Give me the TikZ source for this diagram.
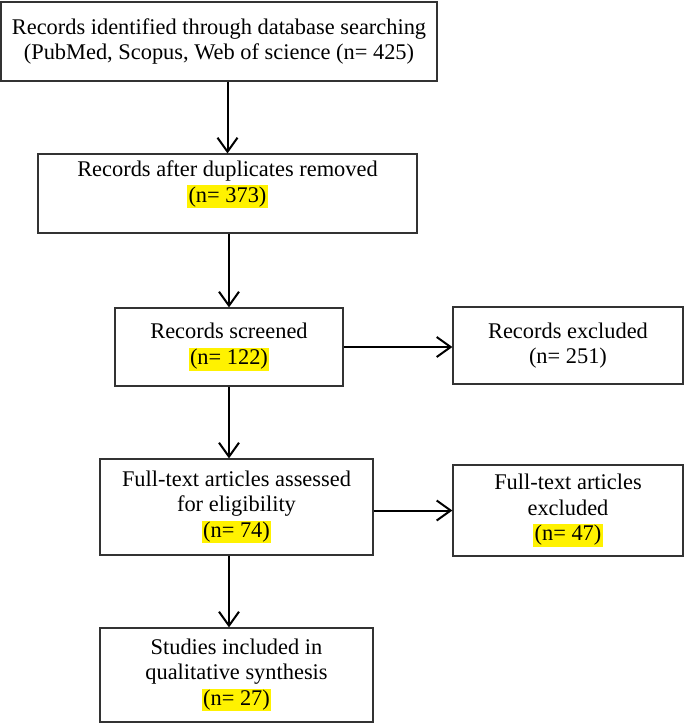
\documentclass[tikz,border=0pt]{standalone}
\usepackage{fontspec}
\setmainfont{Liberation Serif}
\usetikzlibrary{arrows.meta}
\newcommand{\hl}[1]{{\setlength{\fboxsep}{0.6pt}\colorbox{yellow}{#1}}}
\begin{document}
\begin{tikzpicture}[x=0.5pt,y=-0.5pt]
\tikzstyle{box}=[draw=black!80,line width=0.6pt,align=center,inner sep=0pt,font=\fontsize{11.2pt}{12.8pt}\selectfont]
\tikzstyle{arr}=[line width=1pt,-{Straight Barb[length=7pt,width=10pt]}]
\useasboundingbox (0,0) rectangle (685,724);
\node[box,minimum width=218pt,minimum height=39.5pt] at (219,41.5) (ident) {Records identified through database searching\\(PubMed, Scopus, Web of science (n= 425)};
\node[box,minimum width=189.5pt,minimum height=39.5pt] at (227.5,193.5) (dupl) {Records after duplicates removed\\\hl{(n= 373)}\rule[-12pt]{0pt}{12pt}};
\node[box,minimum width=114pt,minimum height=39pt] at (229,347) (screen) {Records screened\\\hl{(n= 122)}};
\node[box,minimum width=115pt,minimum height=38.5pt] at (568,345.5) (excl) {Records excluded\\(n= 251)};
\node[box,minimum width=136.5pt,minimum height=48pt] at (236.5,507) (full) {Full-text articles assessed\\for eligibility\\\hl{(n= 74)}};
\node[box,minimum width=115pt,minimum height=45.5pt] at (568,510.5) (fullexcl) {Full-text articles\\excluded\\\hl{(n= 47)}};
\node[box,minimum width=136.5pt,minimum height=47pt] at (236.5,675) (incl) {Studies included in\\qualitative synthesis\\\hl{(n= 27)}};
\draw[arr] (dupl.north |- ident.south) -- (dupl.north);
\draw[arr] (screen.north |- dupl.south) -- (screen.north);
\draw[arr] (screen.east) -- (screen.east -| excl.west);
\draw[arr] (screen.south) -- (screen.south |- full.north);
\draw[arr] (full.east |- fullexcl.west) -- (fullexcl.west);
\draw[arr] (screen.south |- full.south) -- (screen.south |- incl.north);
\end{tikzpicture}
\end{document}
